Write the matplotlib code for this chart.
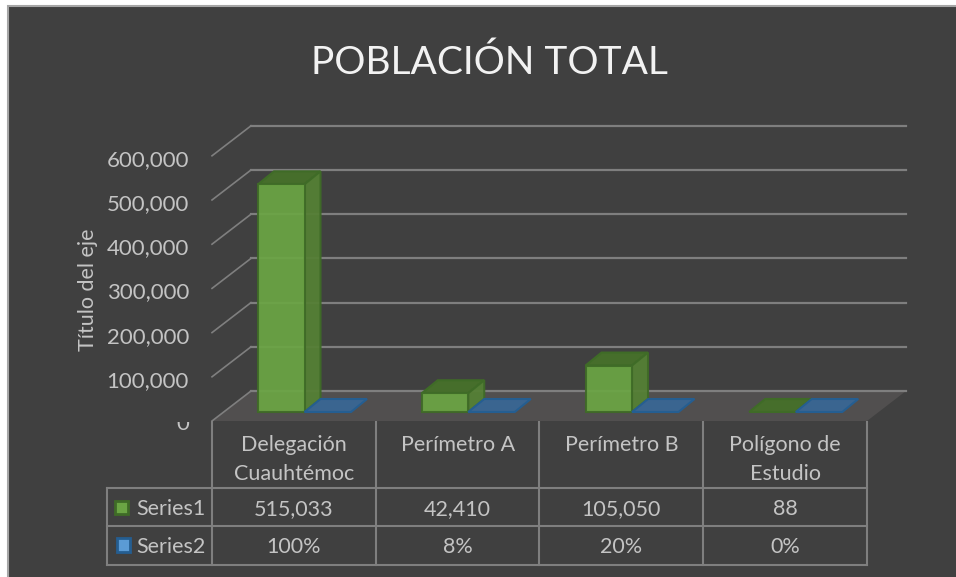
import matplotlib
matplotlib.use('Agg')
import matplotlib.pyplot as plt
from matplotlib.patches import Polygon, Rectangle
from matplotlib.transforms import Bbox

plt.rcParams['font.family'] = ['Lato', 'DejaVu Sans']

categories = [['Delegación', 'Cuauhtémoc'], ['Perímetro A'], ['Perímetro B'], ['Polígono de', 'Estudio']]
series1 = [515033, 42410, 105050, 88]
series2 = [1.00, 0.08, 0.20, 0.00]
series1_labels = ['515,033', '42,410', '105,050', '88']
series2_labels = ['100%', '8%', '20%', '0%']
y_ticks = [0, 100000, 200000, 300000, 400000, 500000, 600000]
y_tick_labels = ['0', '100,000', '200,000', '300,000', '400,000', '500,000', '600,000']

W, H = 956, 577
BG = '#404040'
TXT = '#c4c4c4'
GRID = '#7f7f7f'
GREEN = '#6ba544'
GREEN_SIDE = '#558035'
GREEN_TOP = '#466e2b'
GREEN_EDGE = '#3f6b27'
BLUE = '#5b9bd5'
BLUE_TOP = '#3a6590'
BLUE_EDGE = '#255e91'

fig = plt.figure(figsize=(W / 100, H / 100), dpi=100, facecolor='white')

# pixel axes for the frame, table and labels
px = fig.add_axes([0, 0, 1, 1])
px.set_xlim(0, W)
px.set_ylim(H, 0)
px.axis('off')
px.add_patch(Rectangle((8.5, 5.5), W, H, fc=BG, ec='#a6a6a6', lw=1.5))

# data axes, front plane of the bars: x in categories, y in people
cat_w = 163.75
val_px = 44.2 / 100000
ax = fig.add_axes([212 / W, (H - 412) / H, 655 / W, 6 * 44.2 / H])
ax.set_xlim(0, 4)
ax.set_ylim(0, 600000)
ax.axis('off')
ax.patch.set_alpha(0)
ax.set_zorder(2)

# depth of the bars and of the floor, in data units
bar_dx, bar_dy = 16 / cat_w, 13 / val_px
wall_dx, wall_dy = 39 / cat_w, 21 / val_px
front_dy = -9 / val_px

# floor
floor = [(0, front_dy), (wall_dx, wall_dy), (4 + wall_dx, wall_dy), (4, front_dy)]
ax.add_patch(Polygon(floor, closed=True, fc='#514f4f', ec='none', clip_on=False, zorder=1))

# gridlines: back wall plus the side wall going to the front
for v in y_ticks:
    yb = v + wall_dy
    yf = v + front_dy
    ax.plot([wall_dx, 4 + wall_dx], [yb, yb], color=GRID, lw=1.6, clip_on=False, zorder=2)
    ax.plot([0, wall_dx], [yf, yb], color=GRID, lw=1.2, clip_on=False, zorder=2)


def top_face(x0, w, h, fc, ec):
    pts = [(x0, h), (x0 + bar_dx, h + bar_dy), (x0 + w + bar_dx, h + bar_dy), (x0 + w, h)]
    ax.add_patch(Polygon(pts, closed=True, facecolor=fc, edgecolor=ec, lw=1.5, clip_on=False, zorder=3))


bar_w = 46.5 / cat_w
bar_off = 46 / cat_w
for i, v in enumerate(series1):
    x0 = i + bar_off
    top_face(x0, bar_w, v, GREEN_TOP, GREEN_EDGE)
    if v > 3000:
        side = [(x0 + bar_w, 0), (x0 + bar_w + bar_dx, bar_dy), (x0 + bar_w + bar_dx, v + bar_dy), (x0 + bar_w, v)]
        ax.add_patch(Polygon(side, closed=True, facecolor=GREEN_SIDE, alpha=0.95, edgecolor=GREEN_EDGE, lw=1.5,
                             clip_on=False, zorder=3))
        ax.add_patch(Rectangle((x0, 0), bar_w, v, facecolor=GREEN, alpha=0.93, edgecolor=GREEN_EDGE, lw=1.5,
                               clip_on=False, zorder=3))
for i, v in enumerate(series2):
    # series 2 holds fractions, so on this axis it stays flat on the floor
    top_face(i + bar_off + bar_w, bar_w, v, BLUE_TOP, BLUE_EDGE)

# y tick labels
for v, lab in zip(y_ticks, y_tick_labels):
    if v == 0:
        # the top of the zero is cut off by the floor in the original
        t = ax.text(-23 / cat_w, -12 / val_px, lab, ha='right', va='center', color=TXT, fontsize=16)
        t.set_clip_box(Bbox([[0, 0], [W, H - 421.5]]))
        t.set_clip_on(True)
    else:
        ax.text(-23 / cat_w, v - 13 / val_px, lab, ha='right', va='center', color=TXT, fontsize=16)

px.text(88, 290, 'Título del eje', rotation=90, ha='center', va='center', color=TXT, fontsize=15.5)
px.text(489, 63, 'POBLACIÓN TOTAL', ha='center', va='center', color='#f2f2f2', fontsize=28)

# data table
x_edges = [212 + cat_w * i for i in range(5)]
y_top, y_head, y_r1, y_r2 = 422, 488, 526, 565
tk = dict(color=GRID, lw=1.5, zorder=2)
x_left = 107
for x in x_edges:
    px.plot([x, x], [y_top, y_r2], **tk)
px.plot([x_left, x_left], [y_head, y_r2], **tk)
for y in (y_head, y_r1, y_r2):
    px.plot([x_left, x_edges[-1]], [y, y], **tk)

for i in range(4):
    xc = (x_edges[i] + x_edges[i + 1]) / 2
    for k, line in enumerate(categories[i]):
        px.text(xc, 445 + 29 * k, line, ha='center', va='center', color=TXT, fontsize=15.5)
    px.text(xc, 509, series1_labels[i], ha='center', va='center', color=TXT, fontsize=15.5)
    px.text(xc, 547, series2_labels[i], ha='center', va='center', color=TXT, fontsize=15.5)

px.text(136, 509, 'Series1', ha='left', va='center', color=TXT, fontsize=15.5)
px.text(136, 547, 'Series2', ha='left', va='center', color=TXT, fontsize=15.5)
px.add_patch(Rectangle((115.5, 500.5), 13, 13, fc=GREEN, ec=GREEN_EDGE, lw=2))
px.add_patch(Rectangle((117.5, 537.5), 13, 14, fc=BLUE, ec=BLUE_EDGE, lw=2))

fig.savefig('out.png', dpi=100, facecolor='white')
